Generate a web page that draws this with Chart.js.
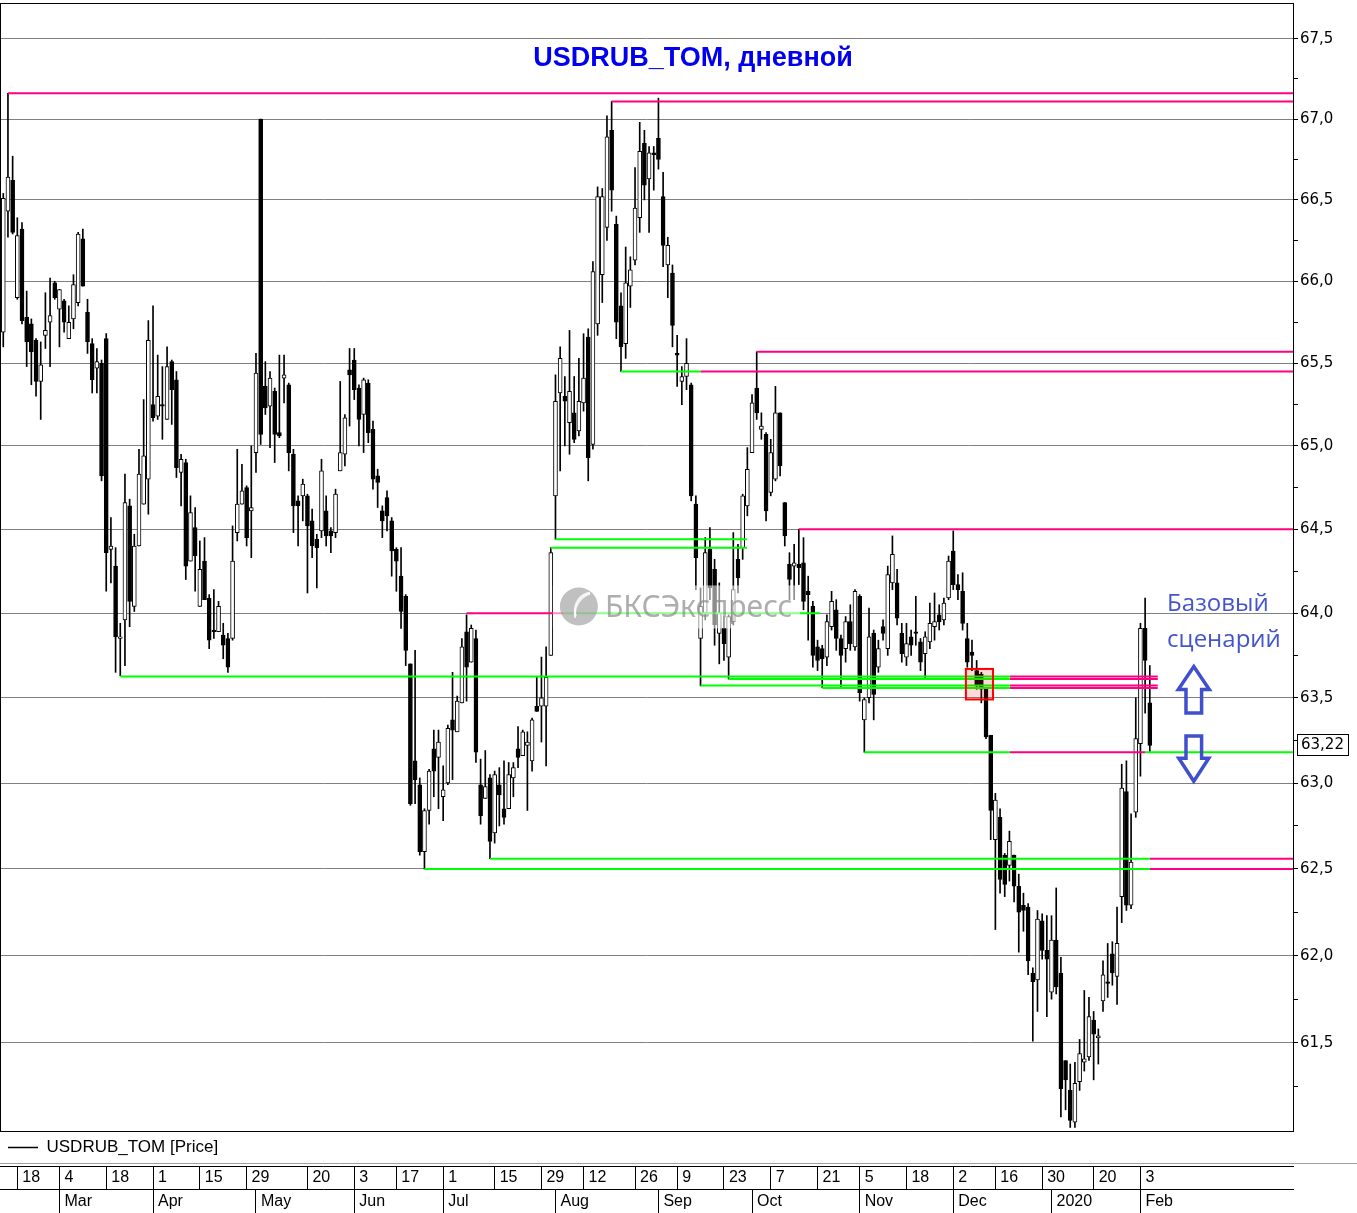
<!DOCTYPE html>
<html>
<head>
<meta charset="utf-8">
<script src="https://cdn.jsdelivr.net/npm/chart.js@4.4.1/dist/chart.umd.min.js"></script>
<style>
  html, body { margin: 0; padding: 0; background: #fff; }
  canvas { display: block; }
</style>
</head>
<body>
<canvas id="chart" width="1357" height="1213"></canvas>
<script>
// USDRUB_TOM daily candles, x = trading day number (0 = first candle on the chart)
var open = [
  65.69, 66.43, 66.62, 65.90, 66.32, 65.78, 65.74, 65.64, 65.39, 65.67,
  65.75, 65.99, 65.83, 65.88, 65.65, 65.77, 65.87, 66.26, 65.81, 65.62,
  65.47, 65.50, 65.65, 64.38, 64.28, 63.85, 63.96, 64.64, 64.04, 64.40,
  64.65, 64.80, 65.25, 65.18, 65.25, 65.16, 65.51, 65.40, 64.84, 64.90,
  64.31, 64.51, 64.04, 64.31, 64.09, 63.90, 63.89, 63.87, 63.85, 63.85,
  64.48, 64.65, 64.75, 64.61, 64.96, 67.00, 65.36, 65.24, 65.33, 65.08,
  65.41, 65.37, 64.95, 64.67, 64.70, 64.70, 64.55, 64.44, 64.49, 64.61,
  64.49, 64.48, 64.85, 64.95, 65.46, 65.52, 65.35, 65.19, 65.38, 65.10,
  64.82, 64.61, 64.69, 64.55, 64.38, 64.22, 64.10, 63.70, 63.13, 62.99,
  62.60, 62.84, 63.20, 63.15, 62.92, 63.00, 63.37, 63.30, 63.47, 63.89,
  63.71, 63.85, 62.99, 62.91, 63.03, 62.71, 62.99, 62.85, 62.85, 63.03,
  63.20, 63.16, 63.22, 63.13, 63.45, 63.45, 63.45, 63.75, 64.70, 65.32,
  65.30, 65.14, 65.20, 65.09, 65.26, 65.66, 65.01, 65.74, 66.04, 66.33,
  66.93, 66.35, 65.85, 65.62, 65.97, 66.13, 66.39, 66.85, 66.63, 66.79,
  66.88, 66.52, 66.10, 66.05, 65.56, 65.39, 65.42, 65.37, 64.65, 63.85,
  64.00, 64.38, 64.26, 63.88, 63.91, 63.74, 63.95, 64.32, 64.39, 64.64,
  64.96, 65.35, 65.10, 65.07, 64.72, 64.80, 65.20, 64.66, 64.29, 64.28,
  64.29, 64.30, 64.13, 64.04, 63.80, 63.79, 63.74, 63.92, 64.02, 63.85,
  63.79, 63.95, 63.80, 64.10, 63.37, 63.50, 63.88, 63.68, 63.92, 63.79,
  64.18, 64.18, 63.88, 63.74, 63.86, 63.89, 63.83, 63.76, 63.83, 63.92,
  63.99, 63.96, 64.09, 64.37, 64.17, 64.13, 63.85, 63.77, 63.66, 63.64,
  63.55, 63.28, 62.67, 62.80, 62.58, 62.52, 62.58, 62.40, 62.29, 62.28,
  61.90, 61.86, 62.20, 62.03, 61.79, 62.09, 61.90, 61.40, 61.23, 61.05,
  61.28, 61.39, 61.42, 61.63, 61.53, 61.74, 61.85, 62.01, 61.88, 62.34,
  62.95, 62.29, 62.83, 63.23, 63.91, 63.47
];
var high = [
  66.54, 67.16, 66.77, 66.39, 66.36, 65.94, 65.77, 65.65, 65.63, 65.93,
  66.02, 66.00, 65.95, 65.89, 65.85, 66.04, 66.30, 66.32, 65.89, 65.65,
  65.59, 65.52, 65.68, 64.57, 64.39, 63.94, 64.83, 64.68, 64.47, 64.98,
  65.28, 65.76, 65.85, 65.55, 65.48, 65.60, 65.52, 65.45, 64.95, 64.92,
  64.70, 64.63, 64.43, 64.45, 64.11, 64.14, 64.07, 63.94, 63.88, 64.52,
  64.98, 64.89, 64.76, 65.00, 65.56, 67.00, 65.51, 65.45, 65.35, 65.55,
  65.55, 65.38, 64.98, 64.70, 64.80, 64.71, 64.62, 64.47, 64.92, 64.70,
  64.51, 64.74, 65.39, 65.19, 65.59, 65.59, 65.37, 65.41, 65.40, 65.15,
  64.86, 64.64, 64.73, 64.57, 64.39, 64.39, 64.11, 63.70, 63.78, 63.03,
  62.85, 63.08, 63.31, 63.31, 63.10, 63.34, 63.65, 63.51, 63.85, 63.99,
  63.93, 63.90, 63.14, 63.19, 63.05, 63.07, 63.09, 63.13, 63.12, 63.12,
  63.33, 63.31, 63.30, 63.38, 63.62, 63.74, 63.80, 64.39, 65.43, 65.60,
  65.42, 65.70, 65.42, 65.53, 65.68, 65.71, 66.12, 66.58, 66.57, 67.02,
  67.11, 66.40, 65.93, 66.21, 66.15, 66.70, 66.98, 66.93, 66.83, 66.83,
  67.13, 66.67, 66.27, 66.10, 65.67, 65.48, 65.65, 65.38, 64.70, 64.15,
  64.45, 64.51, 64.32, 64.18, 63.98, 63.99, 64.48, 64.41, 64.71, 64.99,
  65.31, 65.57, 65.20, 65.08, 65.04, 65.36, 65.20, 64.66, 64.36, 64.41,
  64.50, 64.45, 64.22, 64.07, 63.84, 63.81, 63.99, 64.13, 64.08, 63.87,
  63.98, 64.05, 64.14, 64.11, 63.50, 64.03, 63.90, 63.84, 63.96, 64.28,
  64.46, 64.26, 63.94, 63.94, 63.90, 64.10, 63.85, 63.89, 64.06, 64.12,
  64.05, 64.09, 64.34, 64.49, 64.23, 64.24, 63.94, 63.84, 63.72, 63.65,
  63.56, 63.28, 62.94, 62.85, 62.59, 62.72, 62.58, 62.47, 62.36, 62.30,
  61.93, 62.26, 62.24, 62.23, 62.23, 62.39, 61.99, 61.40, 61.38, 61.39,
  61.52, 61.80, 61.76, 61.68, 61.58, 61.97, 62.07, 62.08, 62.28, 63.11,
  63.13, 62.82, 63.50, 63.94, 64.09, 63.69
];
var low = [
  65.60, 66.27, 66.29, 65.89, 65.74, 65.48, 65.37, 65.30, 65.16, 65.59,
  65.48, 65.89, 65.60, 65.69, 65.65, 65.71, 65.85, 65.97, 65.56, 65.32,
  65.32, 64.79, 64.13, 64.18, 63.65, 63.63, 63.69, 63.92, 64.01, 64.40,
  64.65, 64.59, 65.15, 65.16, 65.04, 65.16, 65.13, 64.81, 64.64, 64.20,
  64.31, 64.13, 64.04, 64.08, 63.79, 63.85, 63.89, 63.73, 63.65, 63.84,
  64.43, 64.65, 64.40, 64.33, 64.84, 65.01, 65.19, 64.99, 64.90, 65.05,
  65.26, 64.85, 64.48, 64.40, 64.55, 64.12, 64.33, 64.15, 64.45, 64.40,
  64.36, 64.45, 64.85, 64.88, 65.12, 65.28, 65.00, 64.96, 65.02, 64.74,
  64.63, 64.45, 64.49, 64.22, 64.13, 63.91, 63.69, 62.87, 62.88, 62.58,
  62.50, 62.76, 62.92, 62.85, 62.78, 62.99, 63.02, 63.30, 63.47, 63.48,
  63.71, 63.12, 62.76, 62.91, 62.56, 62.65, 62.75, 62.76, 62.85, 62.92,
  63.09, 63.16, 62.84, 63.07, 63.42, 63.24, 63.10, 63.75, 64.44, 64.85,
  65.00, 64.95, 65.02, 65.06, 65.21, 64.79, 64.98, 65.67, 65.87, 66.25,
  66.43, 65.65, 65.45, 65.53, 65.84, 66.10, 66.30, 66.50, 66.30, 66.56,
  66.69, 66.09, 65.90, 65.60, 65.36, 65.25, 65.34, 64.67, 64.14, 63.57,
  63.96, 64.08, 63.81, 63.70, 63.72, 63.61, 63.93, 64.12, 64.32, 64.58,
  64.96, 65.16, 65.04, 64.55, 64.70, 64.79, 64.82, 64.40, 64.08, 64.08,
  64.17, 64.02, 63.84, 63.68, 63.66, 63.56, 63.69, 63.90, 63.78, 63.56,
  63.71, 63.78, 63.78, 63.48, 63.18, 63.47, 63.37, 63.65, 63.84, 63.75,
  64.14, 63.93, 63.71, 63.69, 63.75, 63.81, 63.66, 63.62, 63.79, 63.84,
  63.90, 63.93, 64.08, 64.14, 64.08, 63.90, 63.68, 63.66, 63.55, 63.47,
  63.26, 62.67, 62.15, 62.36, 62.34, 62.43, 62.31, 62.02, 62.14, 61.89,
  61.51, 61.68, 61.98, 61.65, 61.75, 61.78, 61.08, 61.12, 61.02, 61.02,
  61.23, 61.34, 61.40, 61.29, 61.38, 61.68, 61.76, 61.83, 61.72, 62.19,
  62.26, 62.27, 62.80, 63.04, 63.41, 63.18
];
var close = [
  66.51, 66.64, 66.30, 66.28, 65.76, 65.63, 65.57, 65.39, 65.49, 65.70,
  65.79, 65.90, 65.95, 65.75, 65.75, 65.98, 66.29, 65.97, 65.63, 65.40,
  65.51, 64.82, 64.36, 64.40, 63.86, 63.86, 64.66, 64.07, 64.40, 64.83,
  64.94, 65.64, 65.17, 65.30, 65.24, 65.48, 65.34, 64.87, 64.92, 64.28,
  64.60, 64.34, 64.26, 64.08, 63.84, 63.89, 64.04, 63.81, 63.68, 64.31,
  64.65, 64.73, 64.45, 64.63, 65.44, 65.07, 65.23, 65.41, 65.07, 65.06,
  65.43, 64.96, 64.64, 64.64, 64.77, 64.52, 64.40, 64.39, 64.85, 64.46,
  64.46, 64.71, 64.96, 65.17, 65.43, 65.34, 65.16, 65.40, 65.08, 64.80,
  64.78, 64.55, 64.58, 64.37, 64.31, 64.01, 63.78, 62.88, 63.02, 62.60,
  62.84, 63.07, 63.07, 63.24, 62.96, 63.32, 63.31, 63.48, 63.80, 63.68,
  63.91, 63.18, 62.81, 62.98, 62.66, 63.05, 62.93, 62.80, 63.05, 63.09,
  63.15, 63.30, 63.24, 63.37, 63.42, 63.50, 63.62, 64.36, 65.27, 65.53,
  65.27, 65.33, 65.04, 65.27, 65.41, 64.93, 66.06, 66.52, 66.52, 66.89,
  66.56, 65.75, 65.60, 65.99, 66.07, 66.45, 66.80, 66.59, 66.79, 66.78,
  66.75, 66.22, 66.22, 65.73, 65.55, 65.42, 65.50, 64.70, 64.33, 64.04,
  64.36, 64.15, 63.93, 64.00, 63.82, 63.98, 64.14, 64.21, 64.70, 64.86,
  65.26, 65.20, 65.12, 64.61, 64.96, 65.20, 64.88, 64.46, 64.20, 64.30,
  64.27, 64.07, 64.11, 63.75, 63.72, 63.73, 63.95, 64.07, 63.85, 63.75,
  63.95, 63.82, 64.13, 63.53, 63.49, 63.86, 63.52, 63.79, 63.88, 64.23,
  64.35, 63.97, 63.76, 63.82, 63.81, 63.88, 63.71, 63.86, 63.94, 63.95,
  63.95, 64.06, 64.31, 64.17, 64.14, 63.94, 63.71, 63.75, 63.57, 63.55,
  63.27, 62.84, 62.90, 62.44, 62.41, 62.66, 62.40, 62.25, 62.26, 61.97,
  61.85, 62.21, 62.03, 61.98, 62.09, 61.82, 61.24, 61.29, 61.06, 61.27,
  61.44, 61.41, 61.65, 61.55, 61.54, 61.89, 61.84, 61.90, 62.07, 62.97,
  62.29, 62.54, 63.26, 63.91, 63.72, 63.22
];

// date axis: day row and month row (positions are trading day numbers)
var dayTickIdx = [3, 12, 22, 32, 42, 52, 65, 75, 84, 94, 105, 115, 124, 135, 144, 154, 164, 174, 183, 193, 203, 212, 222, 233, 243];
var dayTickLabels = ['18', '4', '18', '1', '15', '29', '20', '3', '17', '1', '15', '29', '12', '26', '9', '23', '7', '21', '5', '18', '2', '16', '30', '20', '3'];
var monthTickIdx = [12, 32, 54, 75, 94, 118, 140, 160, 183, 203, 224, 243];
var monthTickLabels = ['Mar', 'Apr', 'May', 'Jun', 'Jul', 'Aug', 'Sep', 'Oct', 'Nov', 'Dec', '2020', 'Feb'];

// price axis
var yMajorTicks = [61.5, 62.0, 62.5, 63.0, 63.5, 64.0, 64.5, 65.0, 65.5, 66.0, 66.5, 67.0, 67.5];
var yMinorTicks = [61.25, 61.75, 62.25, 62.75, 63.25, 63.75, 64.25, 64.75, 65.25, 65.75, 66.25, 66.75, 67.25];

// support / resistance segments (to = null means up to the right edge)
var levelValue = [67.16, 67.11, 65.57, 65.45, 65.45, 64.50, 64.00, 64.00, 64.44, 64.39,
  63.625, 63.625, 63.61, 63.61, 63.572, 63.572, 63.557, 63.557,
  63.18, 63.18, 63.18, 62.56, 62.56, 62.50, 62.50];
var levelFrom = [1, 130, 161, 132, 149, 170, 99, 119.6, 118, 117,
  25, 215.1, 155, 215.1, 149, 215.1, 175, 215.1,
  184, 215.1, 244, 104, 245, 90, 245];
var levelTo = [null, null, null, 149, null, null, 119.6, 174.5, 158.9, 158.9,
  215.1, 246.7, 215.1, 246.7, 215.1, 246.7, 215.1, 246.7,
  215.1, 244, null, 245, null, 245, null];
var levelKind = ['res', 'res', 'res', 'sup', 'res', 'res', 'res', 'sup', 'sup', 'sup',
  'sup', 'res', 'sup', 'res', 'sup', 'res', 'sup', 'res',
  'sup', 'res', 'sup', 'sup', 'res', 'sup', 'res'];

var X_MIN = -0.7, X_MAX = 275.6;
var Y_MIN = 61.006, Y_MAX = 67.725;

var levelColor = { res: '#ff0080', sup: '#00ff00' };

Chart.defaults.font.family = 'Liberation Sans';
Chart.defaults.color = '#000';

function isMajor(v) {
  return yMajorTicks.some(function (m) { return Math.abs(m - v) < 1e-6; });
}

var bodyData = [];
var wickData = [];
for (var i = 0; i < open.length; i++) {
  bodyData.push({ x: i, y: [open[i], close[i]] });
  wickData.push({ x: i, y: [low[i], high[i]] });
}

var datasets = [
  {
    type: 'bar',
    label: 'USDRUB_TOM [Price]',
    data: bodyData,
    grouped: false,
    barThickness: 4,
    minBarLength: 1,
    borderWidth: 1,
    borderColor: '#000',
    borderSkipped: false,
    backgroundColor: function (ctx) {
      var k = ctx.dataIndex;
      return close[k] >= open[k] ? '#ffffff' : '#000000';
    },
    order: 1
  },
  {
    type: 'bar',
    label: 'wicks',
    data: wickData,
    grouped: false,
    barThickness: 1,
    borderWidth: 0,
    backgroundColor: '#000',
    order: 2
  }
];

levelValue.forEach(function (v, k) {
  datasets.push({
    type: 'line',
    label: 'level',
    data: [{ x: levelFrom[k], y: v }, { x: levelTo[k] === null ? X_MAX : levelTo[k], y: v }],
    borderColor: levelColor[levelKind[k]],
    borderWidth: 2,
    pointRadius: 0,
    fill: false,
    tension: 0,
    order: 0
  });
});

function upArrow(ctx, cx, tipY, baseY) {
  var headH = 23, headW = 15.5, shaftW = 7.8;
  ctx.beginPath();
  ctx.moveTo(cx, tipY);
  ctx.lineTo(cx + headW, tipY + headH);
  ctx.lineTo(cx + shaftW, tipY + headH);
  ctx.lineTo(cx + shaftW, baseY);
  ctx.lineTo(cx - shaftW, baseY);
  ctx.lineTo(cx - shaftW, tipY + headH);
  ctx.lineTo(cx - headW, tipY + headH);
  ctx.closePath();
  ctx.stroke();
}

function downArrow(ctx, cx, topY, tipY) {
  var headH = 23, headW = 15, shaftW = 7.8;
  ctx.beginPath();
  ctx.moveTo(cx - shaftW, topY);
  ctx.lineTo(cx + shaftW, topY);
  ctx.lineTo(cx + shaftW, tipY - headH);
  ctx.lineTo(cx + headW, tipY - headH);
  ctx.lineTo(cx, tipY);
  ctx.lineTo(cx - headW, tipY - headH);
  ctx.lineTo(cx - shaftW, tipY - headH);
  ctx.closePath();
  ctx.stroke();
}

var decor = {
  id: 'decor',
  afterDatasetsDraw: function (chart) {
    var ctx = chart.ctx, xs = chart.scales.x, ys = chart.scales.y;
    ctx.save();
    // watermark
    var wx = xs.getPixelForValue(123), wy = ys.getPixelForValue(64.04);
    ctx.fillStyle = 'rgba(255,255,255,0.55)';
    ctx.fillRect(wx - 26, wy - 21, 247, 43);
    ctx.fillStyle = 'rgba(150,150,150,0.6)';
    ctx.beginPath();
    ctx.arc(wx, wy, 19, 0, Math.PI * 2);
    ctx.fill();
    ctx.strokeStyle = 'rgba(255,255,255,0.8)';
    ctx.lineWidth = 2;
    ctx.beginPath();
    ctx.arc(wx + 14, wy + 4, 18, Math.PI * 0.9, Math.PI * 1.45);
    ctx.stroke();
    ctx.beginPath();
    ctx.arc(wx + 18, wy + 8, 22, Math.PI * 0.95, Math.PI * 1.4);
    ctx.stroke();
    ctx.fillStyle = 'rgba(140,140,140,0.7)';
    ctx.font = '30px "Noto Sans"';
    ctx.textAlign = 'left';
    ctx.textBaseline = 'alphabetic';
    ctx.fillText('БКСЭкспресс', wx + 26, wy + 11);

    // highlighted zone
    var bx1 = xs.getPixelForValue(205.7), bx2 = xs.getPixelForValue(211.5);
    var by1 = ys.getPixelForValue(63.67), by2 = ys.getPixelForValue(63.49);
    ctx.fillStyle = 'rgba(255,0,0,0.15)';
    ctx.fillRect(bx1, by1, bx2 - bx1, by2 - by1);
    ctx.strokeStyle = '#ff0000';
    ctx.lineWidth = 2;
    ctx.strokeRect(bx1, by1, bx2 - bx1, by2 - by1);
    ctx.restore();
  },
  afterDraw: function (chart) {
    var ctx = chart.ctx, a = chart.chartArea, xs = chart.scales.x, ys = chart.scales.y;
    ctx.save();
    // frame of the price pane
    ctx.strokeStyle = '#000';
    ctx.lineWidth = 1;
    ctx.strokeRect(a.left + 0.5, a.top + 0.5, a.right - a.left, a.bottom - a.top);
    // pane separator above the date axis
    ctx.strokeStyle = '#a0a0a0';
    ctx.beginPath();
    ctx.moveTo(0, xs.top - 2.5);
    ctx.lineTo(chart.width, xs.top - 2.5);
    ctx.stroke();

    // title
    ctx.fillStyle = '#0000ee';
    ctx.font = 'bold 27px "Liberation Sans"';
    ctx.textAlign = 'center';
    ctx.textBaseline = 'middle';
    ctx.fillText('USDRUB_TOM, дневной', xs.getPixelForValue(147.4), ys.getPixelForValue(67.38));

    // scenario note and arrows
    ctx.fillStyle = '#4455cc';
    ctx.font = '24px "Open Sans"';
    ctx.textAlign = 'left';
    ctx.textBaseline = 'alphabetic';
    var tx = xs.getPixelForValue(248.7);
    ctx.fillText('Базовый', tx, ys.getPixelForValue(64.01));
    ctx.fillText('сценарий', tx, ys.getPixelForValue(63.80));
    ctx.strokeStyle = '#4050cc';
    ctx.lineWidth = 3.5;
    ctx.lineJoin = 'miter';
    var ax = xs.getPixelForValue(254.4);
    upArrow(ctx, ax, ys.getPixelForValue(63.684), ys.getPixelForValue(63.411));
    downArrow(ctx, ax, ys.getPixelForValue(63.275), ys.getPixelForValue(63.01));

    // last price marker on the axis
    var last = close[close.length - 1];
    var ly = Math.round(ys.getPixelForValue(last));
    ctx.fillStyle = '#fff';
    ctx.fillRect(ys.left + 4.5, ly - 10.5, 51, 21);
    ctx.strokeStyle = '#000';
    ctx.lineWidth = 1;
    ctx.strokeRect(ys.left + 4.5, ly - 10.5, 51, 21);
    ctx.fillStyle = '#000';
    ctx.font = '15px "DejaVu Sans"';
    ctx.textBaseline = 'middle';
    ctx.fillText(last.toFixed(2).replace('.', ','), ys.left + 8, ly);
    ctx.restore();
  }
};

new Chart(document.getElementById('chart'), {
  type: 'bar',
  data: { datasets: datasets },
  options: {
    responsive: false,
    animation: false,
    events: [],
    devicePixelRatio: 1,
    layout: { padding: { top: 3, left: 0, right: 0, bottom: 0 } },
    plugins: {
      tooltip: { enabled: false },
      legend: {
        position: 'bottom',
        align: 'start',
        weight: -1,
        labels: {
          usePointStyle: true,
          pointStyleWidth: 30,
          padding: 8,
          color: '#000',
          font: { family: 'Liberation Sans', size: 17 },
          generateLabels: function () {
            return [{ text: 'USDRUB_TOM [Price]', pointStyle: 'line', strokeStyle: '#000', fillStyle: '#000', lineWidth: 1.5, datasetIndex: 0 }];
          }
        }
      }
    },
    scales: {
      x: {
        type: 'linear',
        position: 'bottom',
        weight: 1,
        min: X_MIN,
        max: X_MAX,
        offset: false,
        afterBuildTicks: function (s) { s.ticks = dayTickIdx.map(function (v) { return { value: v }; }); },
        afterFit: function (s) { s.height = 23; s.paddingLeft = 0; s.paddingRight = 0; },
        ticks: {
          autoSkip: false,
          maxRotation: 0,
          minRotation: 0,
          align: 'start',
          labelOffset: 5,
          padding: -21,
          color: '#000',
          font: { family: 'Liberation Sans', size: 16 },
          callback: function (v, k) { return dayTickLabels[k]; }
        },
        grid: { offset: false, drawOnChartArea: false, drawTicks: true, tickLength: 23, color: '#000', lineWidth: 1 },
        border: { display: true, color: '#000', width: 1 }
      },
      x2: {
        type: 'linear',
        position: 'bottom',
        weight: 2,
        min: X_MIN,
        max: X_MAX,
        offset: false,
        afterBuildTicks: function (s) { s.ticks = monthTickIdx.map(function (v) { return { value: v }; }); },
        afterFit: function (s) { s.height = 24; s.paddingLeft = 0; s.paddingRight = 0; },
        ticks: {
          autoSkip: false,
          maxRotation: 0,
          minRotation: 0,
          align: 'start',
          labelOffset: 5,
          padding: -21.5,
          color: '#000',
          font: { family: 'Liberation Sans', size: 16 },
          callback: function (v, k) { return monthTickLabels[k]; }
        },
        grid: { offset: false, drawOnChartArea: false, drawTicks: true, tickLength: 24, color: '#000', lineWidth: 1 },
        border: { display: true, color: '#000', width: 1 }
      },
      y: {
        type: 'logarithmic',
        position: 'right',
        min: Y_MIN,
        max: Y_MAX,
        afterBuildTicks: function (s) {
          s.ticks = yMajorTicks.concat(yMinorTicks).sort(function (p, q) { return p - q; })
            .map(function (v) { return { value: v }; });
        },
        afterFit: function (s) { s.width = 64; s.paddingTop = 0; s.paddingBottom = 0; },
        ticks: {
          autoSkip: false,
          padding: 2,
          color: '#000',
          font: { family: 'DejaVu Sans', size: 15 },
          callback: function (v) { return isMajor(v) ? v.toFixed(1).replace('.', ',') : ''; }
        },
        grid: {
          color: function (c) { return c.tick && isMajor(c.tick.value) ? '#808080' : 'rgba(0,0,0,0)'; },
          tickColor: '#000',
          tickLength: 5,
          lineWidth: 1
        },
        border: { display: true, color: '#000', width: 1 }
      }
    }
  },
  plugins: [decor]
});
</script>
</body>
</html>
